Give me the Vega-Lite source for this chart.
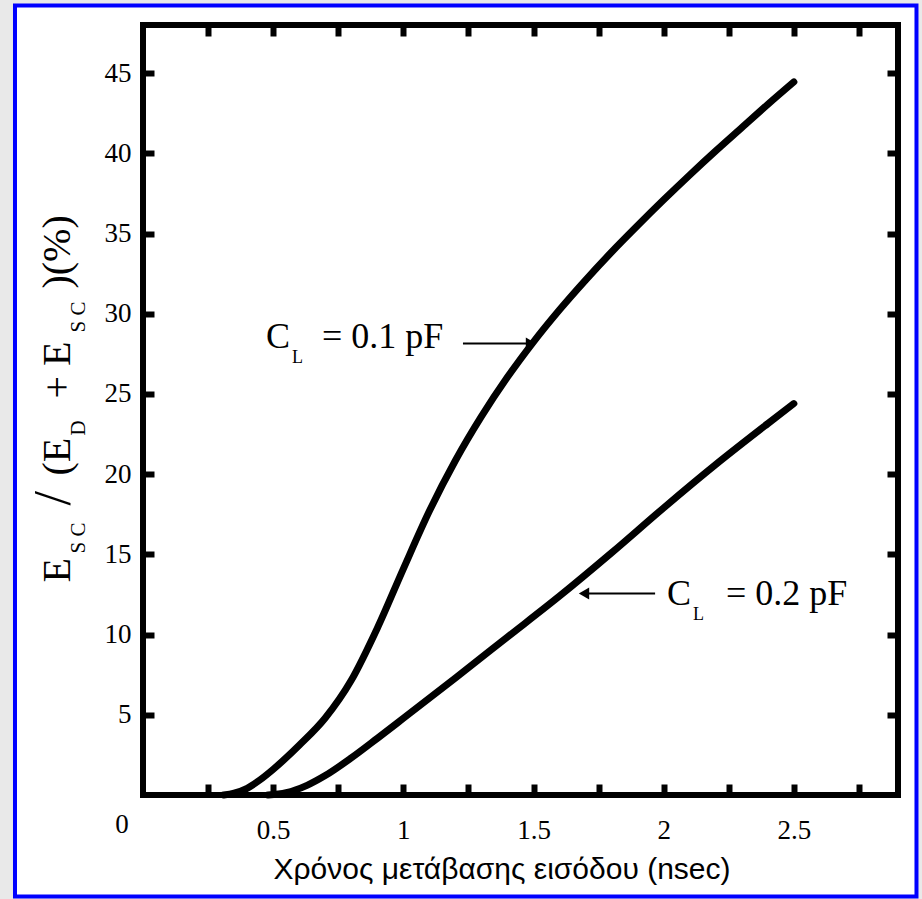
{
  "$schema": "https://vega.github.io/schema/vega-lite/v6.json",
  "width": 755,
  "height": 770,
  "autosize": {"type": "none"},
  "padding": {"left": 143, "top": 25, "right": 24, "bottom": 104},
  "background": "#e9e9e9",
  "config": {
    "view": {"stroke": null},
    "axis": {
      "grid": false,
      "domain": false,
      "ticks": true,
      "tickColor": "black",
      "tickWidth": 6,
      "tickSize": -11,
      "labelFont": "Liberation Serif",
      "labelFontSize": 27,
      "labelColor": "black"
    },
    "text": {"font": "Liberation Serif", "color": "black"}
  },
  "resolve": {"axis": {"x": "independent", "y": "independent"}},
  "layer": [
    {
      "data": {"values": [{}]},
      "mark": {"type": "rect", "fill": "white", "stroke": "#0000ff", "strokeWidth": 4},
      "encoding": {
        "x": {"datum": -0.4917, "type": "quantitative", "scale": {"domain": [0, 2.9], "nice": false, "zero": false}, "axis": null},
        "x2": {"datum": 2.971},
        "y": {"datum": -6.327, "type": "quantitative", "scale": {"domain": [0, 48], "nice": false, "zero": false}, "axis": null},
        "y2": {"datum": 49.21}
      }
    },
    {
      "data": {"values": [{}]},
      "mark": {"type": "rect", "filled": false, "stroke": "black", "strokeWidth": 6},
      "encoding": {
        "x": {"datum": 0, "type": "quantitative", "scale": {"domain": [0, 2.9], "nice": false, "zero": false},
              "axis": {"orient": "top", "zindex": 2, "values": [0.25, 0.5, 0.75, 1, 1.25, 1.5, 1.75, 2, 2.25, 2.5, 2.75], "labels": false, "title": null}},
        "x2": {"datum": 2.9},
        "y": {"datum": 0, "type": "quantitative", "scale": {"domain": [0, 48], "nice": false, "zero": false},
              "axis": {"orient": "right", "zindex": 2, "values": [5, 10, 15, 20, 25, 30, 35, 40, 45], "labels": false, "title": null}},
        "y2": {"datum": 48}
      }
    },
    {
      "data": {"values": [
        {"x": 0.31, "y": 0, "cl": "0.1 pF"},
        {"x": 0.35, "y": 0.12, "cl": "0.1 pF"},
        {"x": 0.4, "y": 0.42, "cl": "0.1 pF"},
        {"x": 0.45, "y": 0.95, "cl": "0.1 pF"},
        {"x": 0.5, "y": 1.6, "cl": "0.1 pF"},
        {"x": 0.6, "y": 3.1, "cl": "0.1 pF"},
        {"x": 0.7, "y": 4.8, "cl": "0.1 pF"},
        {"x": 0.8, "y": 7.15, "cl": "0.1 pF"},
        {"x": 0.9, "y": 10.4, "cl": "0.1 pF"},
        {"x": 1.0, "y": 14.1, "cl": "0.1 pF"},
        {"x": 1.1, "y": 17.7, "cl": "0.1 pF"},
        {"x": 1.2, "y": 20.85, "cl": "0.1 pF"},
        {"x": 1.3, "y": 23.6, "cl": "0.1 pF"},
        {"x": 1.4, "y": 26.05, "cl": "0.1 pF"},
        {"x": 1.5, "y": 28.25, "cl": "0.1 pF"},
        {"x": 1.6, "y": 30.25, "cl": "0.1 pF"},
        {"x": 1.7, "y": 32.1, "cl": "0.1 pF"},
        {"x": 1.8, "y": 33.85, "cl": "0.1 pF"},
        {"x": 1.9, "y": 35.5, "cl": "0.1 pF"},
        {"x": 2.0, "y": 37.1, "cl": "0.1 pF"},
        {"x": 2.1, "y": 38.65, "cl": "0.1 pF"},
        {"x": 2.2, "y": 40.15, "cl": "0.1 pF"},
        {"x": 2.3, "y": 41.6, "cl": "0.1 pF"},
        {"x": 2.4, "y": 43.05, "cl": "0.1 pF"},
        {"x": 2.5, "y": 44.45, "cl": "0.1 pF"},
        {"x": 0.48, "y": 0, "cl": "0.2 pF"},
        {"x": 0.55, "y": 0.14, "cl": "0.2 pF"},
        {"x": 0.63, "y": 0.6, "cl": "0.2 pF"},
        {"x": 0.7, "y": 1.21, "cl": "0.2 pF"},
        {"x": 0.8, "y": 2.31, "cl": "0.2 pF"},
        {"x": 0.9, "y": 3.53, "cl": "0.2 pF"},
        {"x": 1.0, "y": 4.78, "cl": "0.2 pF"},
        {"x": 1.2, "y": 7.3, "cl": "0.2 pF"},
        {"x": 1.4, "y": 9.85, "cl": "0.2 pF"},
        {"x": 1.6, "y": 12.4, "cl": "0.2 pF"},
        {"x": 1.8, "y": 15.1, "cl": "0.2 pF"},
        {"x": 2.0, "y": 17.9, "cl": "0.2 pF"},
        {"x": 2.2, "y": 20.6, "cl": "0.2 pF"},
        {"x": 2.4, "y": 23.15, "cl": "0.2 pF"},
        {"x": 2.5, "y": 24.4, "cl": "0.2 pF"}
      ]},
      "mark": {"type": "line", "color": "black", "strokeWidth": 7, "strokeCap": "round", "strokeJoin": "round", "interpolate": "monotone"},
      "encoding": {
        "x": {"field": "x", "type": "quantitative", "scale": {"domain": [0, 2.9], "nice": false, "zero": false},
              "axis": {"orient": "bottom", "zindex": 2, "values": [0.25, 0.5, 0.75, 1, 1.25, 1.5, 1.75, 2, 2.25, 2.5, 2.75], "format": "~g",
                       "labelExpr": "datum.value % 0.5 == 0 ? datum.label : ''", "labelPadding": 33.5,
                       "title": "Χρόνος μετάβασης εισόδου (nsec)", "titleFont": "Liberation Sans", "titleFontSize": 30,
                       "titleFontWeight": "normal", "titleColor": "black", "titleX": 358.5, "titleY": 83.5,
                       "titleBaseline": "alphabetic", "titleAlign": "center"}},
        "y": {"field": "y", "type": "quantitative", "scale": {"domain": [0, 48], "nice": false, "zero": false},
              "axis": {"orient": "left", "zindex": 2, "values": [5, 10, 15, 20, 25, 30, 35, 40, 45], "labelPadding": 23, "title": null}},
        "detail": {"field": "cl"}
      }
    },
    {
      "data": {"values": [{}]},
      "mark": {"type": "text", "fontSize": 40, "angle": 270, "align": "left", "baseline": "alphabetic", "dy": -73},
      "encoding": {"x": {"datum": 0, "type": "quantitative", "axis": null}, "y": {"datum": 13.246, "type": "quantitative", "axis": null}, "text": {"value": "E"}}
    },
    {
      "data": {"values": [{}]},
      "mark": {"type": "text", "fontSize": 21, "angle": 270, "align": "left", "baseline": "alphabetic", "dy": -58},
      "encoding": {"x": {"datum": 0, "type": "quantitative", "axis": null}, "y": {"datum": 15.06, "type": "quantitative", "axis": null}, "text": {"value": "S C"}}
    },
    {
      "data": {"values": [{}]},
      "mark": {"type": "text", "fontSize": 52, "angle": 270, "align": "left", "baseline": "alphabetic", "dy": -73},
      "encoding": {"x": {"datum": 0, "type": "quantitative", "axis": null}, "y": {"datum": 18.05, "type": "quantitative", "axis": null}, "text": {"value": "/"}}
    },
    {
      "data": {"values": [{}]},
      "mark": {"type": "text", "fontSize": 40, "angle": 270, "align": "left", "baseline": "alphabetic", "dy": -73},
      "encoding": {"x": {"datum": 0, "type": "quantitative", "axis": null}, "y": {"datum": 19.92, "type": "quantitative", "axis": null}, "text": {"value": "(E"}}
    },
    {
      "data": {"values": [{}]},
      "mark": {"type": "text", "fontSize": 21, "angle": 270, "align": "left", "baseline": "alphabetic", "dy": -58},
      "encoding": {"x": {"datum": 0, "type": "quantitative", "axis": null}, "y": {"datum": 22.41, "type": "quantitative", "axis": null}, "text": {"value": "D"}}
    },
    {
      "data": {"values": [{}]},
      "mark": {"type": "text", "fontSize": 40, "angle": 270, "align": "left", "baseline": "alphabetic", "dy": -73},
      "encoding": {"x": {"datum": 0, "type": "quantitative", "axis": null}, "y": {"datum": 24.72, "type": "quantitative", "axis": null}, "text": {"value": "+ E"}}
    },
    {
      "data": {"values": [{}]},
      "mark": {"type": "text", "fontSize": 21, "angle": 270, "align": "left", "baseline": "alphabetic", "dy": -58},
      "encoding": {"x": {"datum": 0, "type": "quantitative", "axis": null}, "y": {"datum": 28.83, "type": "quantitative", "axis": null}, "text": {"value": "S C"}}
    },
    {
      "data": {"values": [{}]},
      "mark": {"type": "text", "fontSize": 40, "angle": 270, "align": "left", "baseline": "alphabetic", "dy": -73},
      "encoding": {"x": {"datum": 0, "type": "quantitative", "axis": null}, "y": {"datum": 31.57, "type": "quantitative", "axis": null}, "text": {"value": ")(%)"}}
    },
    {
      "data": {"values": [{}]},
      "mark": {"type": "text", "fontSize": 27, "align": "center", "baseline": "alphabetic", "dx": -21, "dy": 37.5},
      "encoding": {"x": {"datum": 0, "type": "quantitative", "axis": null}, "y": {"datum": 0, "type": "quantitative", "axis": null}, "text": {"value": "0"}}
    },
    {
      "data": {"values": [{}]},
      "mark": {"type": "text", "fontSize": 36, "align": "left", "baseline": "alphabetic"},
      "encoding": {"x": {"datum": 0.4725, "type": "quantitative", "axis": null}, "y": {"datum": 27.89, "type": "quantitative", "axis": null}, "text": {"value": "C"}}
    },
    {
      "data": {"values": [{}]},
      "mark": {"type": "text", "fontSize": 18, "align": "left", "baseline": "alphabetic"},
      "encoding": {"x": {"datum": 0.5723, "type": "quantitative", "axis": null}, "y": {"datum": 26.96, "type": "quantitative", "axis": null}, "text": {"value": "L"}}
    },
    {
      "data": {"values": [{}]},
      "mark": {"type": "text", "fontSize": 36, "align": "left", "baseline": "alphabetic"},
      "encoding": {"x": {"datum": 0.6875, "type": "quantitative", "axis": null}, "y": {"datum": 27.89, "type": "quantitative", "axis": null}, "text": {"value": "= 0.1 pF"}}
    },
    {
      "data": {"values": [{}]},
      "mark": {"type": "rule", "color": "black", "strokeWidth": 2},
      "encoding": {"x": {"datum": 1.229, "type": "quantitative", "axis": null}, "x2": {"datum": 1.475}, "y": {"datum": 28.145, "type": "quantitative", "axis": null}}
    },
    {
      "data": {"values": [{}]},
      "mark": {"type": "point", "shape": "triangle-right", "filled": true, "color": "black", "size": 144, "opacity": 1},
      "encoding": {"x": {"datum": 1.4903, "type": "quantitative", "axis": null}, "y": {"datum": 28.145, "type": "quantitative", "axis": null}}
    },
    {
      "data": {"values": [{}]},
      "mark": {"type": "text", "fontSize": 36, "align": "left", "baseline": "alphabetic"},
      "encoding": {"x": {"datum": 2.0127, "type": "quantitative", "axis": null}, "y": {"datum": 11.813, "type": "quantitative", "axis": null}, "text": {"value": "C"}}
    },
    {
      "data": {"values": [{}]},
      "mark": {"type": "text", "fontSize": 18, "align": "left", "baseline": "alphabetic"},
      "encoding": {"x": {"datum": 2.1126, "type": "quantitative", "axis": null}, "y": {"datum": 10.878, "type": "quantitative", "axis": null}, "text": {"value": "L"}}
    },
    {
      "data": {"values": [{}]},
      "mark": {"type": "text", "fontSize": 36, "align": "left", "baseline": "alphabetic"},
      "encoding": {"x": {"datum": 2.2393, "type": "quantitative", "axis": null}, "y": {"datum": 11.813, "type": "quantitative", "axis": null}, "text": {"value": "= 0.2 pF"}}
    },
    {
      "data": {"values": [{}]},
      "mark": {"type": "rule", "color": "black", "strokeWidth": 2},
      "encoding": {"x": {"datum": 1.71, "type": "quantitative", "axis": null}, "x2": {"datum": 1.967}, "y": {"datum": 12.561, "type": "quantitative", "axis": null}}
    },
    {
      "data": {"values": [{}]},
      "mark": {"type": "point", "shape": "triangle-left", "filled": true, "color": "black", "size": 144, "opacity": 1},
      "encoding": {"x": {"datum": 1.6939, "type": "quantitative", "axis": null}, "y": {"datum": 12.561, "type": "quantitative", "axis": null}}
    }
  ]
}
